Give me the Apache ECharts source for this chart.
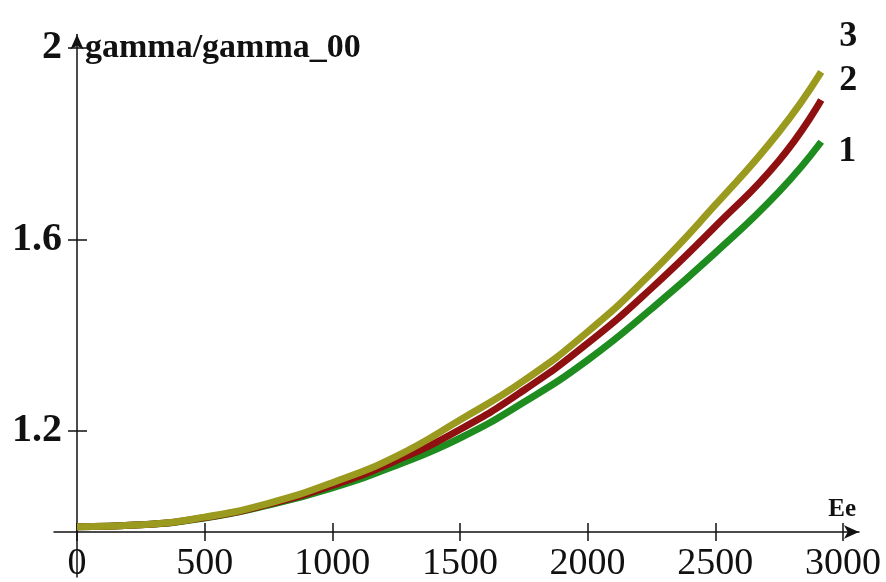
<!DOCTYPE html>
<html>
<head>
<meta charset="utf-8">
<script src="https://cdn.jsdelivr.net/npm/echarts@6/dist/echarts.min.js"></script>
<style>
  html, body { margin: 0; padding: 0; background: #fff; }
  #chart { width: 886px; height: 582px; }
</style>
</head>
<body>
<div id="chart"></div>
<script>
// Ee values (x)
const energy = [0, 250, 500, 750, 1000, 1250, 1500, 1750, 2000, 2250, 2500, 2750, 2915]
// gamma/gamma_00, curves 1..3
const curve1 = [1.0, 1.004, 1.018, 1.045, 1.081, 1.128, 1.185, 1.26, 1.348, 1.455, 1.572, 1.70, 1.804]
const curve2 = [1.0, 1.004, 1.019, 1.047, 1.086, 1.138, 1.203, 1.285, 1.383, 1.498, 1.627, 1.765, 1.891]
const curve3 = [1.0, 1.004, 1.020, 1.049, 1.092, 1.147, 1.223, 1.305, 1.407, 1.530, 1.672, 1.825, 1.950]
const xTicks = [0, 500, 1000, 1500, 2000, 2500, 3000]
const yTicks = [1.2, 1.6, 2]

const serif = 'Liberation Serif'

const pairs = (ys) => energy.map((x, i) => [x, ys[i]])

const lineSeries = (name, ys, color, offset) => ({
  name: name,
  type: 'line',
  data: pairs(ys),
  smooth: true,
  showSymbol: false,
  lineStyle: { color: color, width: 7 },
  endLabel: {
    show: true,
    formatter: '{a}',
    offset: offset,
    color: '#111',
    fontFamily: serif,
    fontWeight: 'bold',
    fontSize: 36
  }
})

const axisLineStyle = { color: '#111', width: 1.5 }

const option = {
  animation: false,
  backgroundColor: '#fff',
  grid: { left: 54, right: 27, top: 34.5, bottom: 5, outerBoundsMode: 'none', containLabel: false },
  xAxis: [{
    type: 'value',
    min: -90,
    max: 3063,
    offset: -45,
    splitLine: { show: false },
    axisLine: { onZero: false, lineStyle: axisLineStyle, symbol: ['none', 'arrow'], symbolSize: [10, 15] },
    axisTick: { customValues: xTicks, length: 9, lineStyle: axisLineStyle },
    axisLabel: {
      customValues: xTicks,
      formatter: (v) => String(v),
      margin: 13,
      color: '#111',
      fontFamily: serif,
      fontSize: 38
    },
    name: 'Ee',
    nameLocation: 'end',
    nameGap: -3,
    nameTextStyle: { align: 'right', verticalAlign: 'bottom', padding: [0, 0, 10, 0], color: '#111', fontFamily: serif, fontWeight: 'bold', fontSize: 25 }
  }, {
    // second axis just for the upper half of the tick marks
    type: 'value',
    position: 'bottom',
    min: -90,
    max: 3063,
    offset: -45,
    splitLine: { show: false },
    axisLine: { show: false, onZero: false },
    axisTick: { customValues: xTicks, inside: true, length: 9, lineStyle: axisLineStyle },
    axisLabel: { show: false }
  }],
  yAxis: [{
    type: 'value',
    position: 'left',
    min: 0.895,
    max: 2.028,
    offset: -23,
    splitLine: { show: false },
    axisLine: { onZero: false, lineStyle: axisLineStyle, symbol: ['none', 'arrow'], symbolSize: [10, 15] },
    axisTick: { customValues: yTicks, length: 9, lineStyle: axisLineStyle },
    axisLabel: { customValues: yTicks, margin: 15, color: '#111', fontFamily: serif, fontWeight: 'bold', fontSize: 40 },
    name: 'gamma/gamma_00',
    nameLocation: 'end',
    nameGap: -14,
    nameTextStyle: { align: 'left', verticalAlign: 'middle', padding: [0, 0, 0, 8], color: '#111', fontFamily: serif, fontWeight: 'bold', fontSize: 34 }
  }, {
    type: 'value',
    position: 'left',
    min: 0.895,
    max: 2.028,
    offset: -23,
    splitLine: { show: false },
    axisLine: { show: false, onZero: false },
    axisTick: { customValues: yTicks, inside: true, length: 10, lineStyle: axisLineStyle },
    axisLabel: { show: false }
  }],
  series: [
    lineSeries('1', curve1, '#1e8c1e', [9, 10]),
    lineSeries('2', curve2, '#8e1010', [10, -19]),
    lineSeries('3', curve3, '#9a9a1e', [10, -35])
  ]
}

const chart = echarts.init(document.getElementById('chart'))
chart.setOption(option)
</script>
</body>
</html>
